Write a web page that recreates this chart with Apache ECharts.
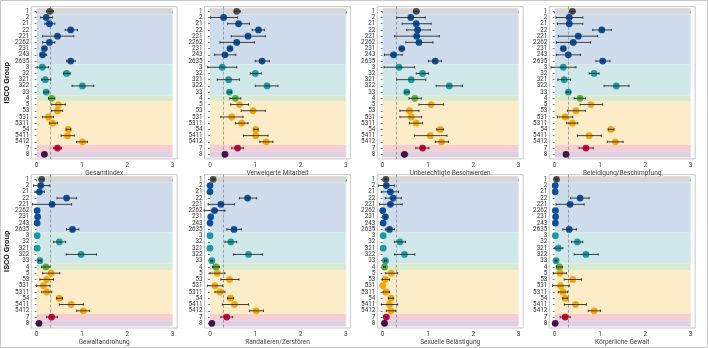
<!DOCTYPE html>
<html><head><meta charset="utf-8">
<script src="https://cdn.jsdelivr.net/npm/echarts@6/dist/echarts.min.js"></script>
<style>html,body{margin:0;padding:0;background:#fff}#c{width:708px;height:348px}</style>
</head><body><div id="c"></div>
<script>
const categories = ['1','2','21','22','221','2262','231','243','2635','3','32','321','322','33','4','5','53','531','5311','54','5411','5412','7','8'];
const panelNames = ['Gesamtindex','Verweigerte Mitarbeit','Unberechtigte Beschwerden','Beleidigung/Beschimpfung','Gewaltandrohung','Randalieren/Zerstören','Sexuelle Belästigung','Körperliche Gewalt'];
const xTicks = [0,1,2,3];
const refLine = 0.3;

const gesamtMean = [0.29,0.21,0.28,0.75,0.46,0.28,0.17,0.13,0.75,0.125,0.66,0.19,1.01,0.21,0.33,0.48,0.46,0.26,0.35,0.70,0.68,1.01,0.46,0.17];
const gesamtLow  = [0.22,0.09,0.18,0.63,0.13,0.13,0.13,0.09,0.66,0.01,0.59,0.11,0.78,0.16,0.26,0.33,0.33,0.125,0.28,0.65,0.54,0.88,0.37,0.14];
const gesamtHigh = [0.37,0.35,0.40,0.90,0.82,0.40,0.21,0.22,0.85,0.26,0.74,0.31,1.26,0.26,0.40,0.63,0.57,0.37,0.46,0.75,0.83,1.12,0.55,0.20];

const mitarbeitMean = [0.59,0.30,0.63,1.07,0.84,0.59,0.44,0.33,1.15,0.27,1.00,0.41,1.26,0.43,0.56,0.65,0.95,0.48,0.70,1.01,1.01,1.24,0.61,0.33];
const mitarbeitLow  = [0.54,0.01,0.39,0.93,0.47,0.22,0.40,0.10,1.00,-0.05,0.89,0.16,1.00,0.39,0.44,0.46,0.69,0.24,0.56,0.97,0.74,1.10,0.48,0.28];
const mitarbeitHigh = [0.67,0.61,0.87,1.20,1.22,0.98,0.49,0.57,1.31,0.59,1.13,0.65,1.50,0.47,0.68,0.85,1.22,0.73,0.84,1.06,1.28,1.39,0.74,0.38];

const beschwerdenMean = [0.74,0.62,0.74,0.77,0.75,0.80,0.42,0.24,1.16,0.36,0.88,0.63,1.47,0.53,0.71,1.07,0.59,0.63,0.74,1.27,1.05,1.30,0.88,0.48];
const beschwerdenLow  = [0.68,0.31,0.43,0.53,0.26,0.51,0.38,0.04,1.01,0.03,0.74,0.31,1.18,0.49,0.58,0.80,0.38,0.38,0.59,1.19,0.70,1.16,0.73,0.41];
const beschwerdenHigh = [0.80,0.94,1.07,1.05,1.25,1.11,0.47,0.43,1.30,0.70,1.01,0.95,1.76,0.58,0.85,1.34,0.80,0.86,0.88,1.34,1.42,1.45,1.02,0.55];

const beleidigungMean = [0.39,0.32,0.32,1.04,0.52,0.41,0.19,0.30,1.06,0.19,0.87,0.21,1.36,0.30,0.56,0.80,0.47,0.23,0.39,1.24,0.76,1.34,0.69,0.25];
const beleidigungLow  = [0.33,0.03,0.06,0.84,0.08,0.04,0.15,0.04,0.91,-0.08,0.76,0.07,1.09,0.26,0.43,0.56,0.28,0.06,0.26,1.18,0.50,1.16,0.54,0.22];
const beleidigungHigh = [0.45,0.62,0.62,1.25,0.95,0.79,0.24,0.57,1.22,0.47,0.98,0.35,1.64,0.35,0.68,1.06,0.68,0.40,0.51,1.31,1.03,1.51,0.85,0.28];

const drohungMean = [0.11,0.09,0.06,0.66,0.34,0.01,0.02,0.01,0.79,0.01,0.50,0.01,0.98,0.07,0.20,0.32,0.22,0.15,0.22,0.50,0.76,1.03,0.33,0.05];
const drohungLow  = [0.07,-0.07,-0.04,0.45,-0.09,0.01,0.02,0.01,0.66,0.01,0.37,0.01,0.65,0.04,0.11,0.13,0.07,0.00,0.11,0.44,0.50,0.88,0.22,0.02];
const drohungHigh = [0.15,0.28,0.17,0.88,0.77,0.01,0.02,0.01,0.93,0.01,0.64,0.01,1.32,0.10,0.29,0.51,0.37,0.29,0.33,0.57,1.03,1.17,0.46,0.08];

const randaleMean = [0.07,0.00,0.00,0.83,0.24,0.10,0.015,0.00,0.53,0.00,0.46,0.00,0.85,0.04,0.13,0.16,0.43,0.11,0.22,0.45,0.54,1.02,0.37,0.04];
const randaleLow  = [0.04,0,0,0.65,-0.04,-0.13,0.015,0,0.37,0,0.33,0,0.52,0.02,0.06,0.00,0.24,-0.06,0.11,0.39,0.27,0.87,0.24,0.02];
const randaleHigh = [0.10,0,0,1.03,0.54,0.33,0.015,0,0.69,0,0.59,0,1.16,0.06,0.21,0.33,0.64,0.28,0.33,0.52,0.85,1.18,0.50,0.06];

const sexuellMean = [0.07,0.08,0.17,0.23,0.17,0.00,0.06,0.01,0.15,0.01,0.38,0.01,0.48,0.06,0.04,0.19,0.06,0.00,0.07,0.18,0.15,0.18,0.08,0.04];
const sexuellLow  = [0.05,-0.09,-0.03,0.06,-0.07,0,0.04,0.01,0.06,0.01,0.26,0.01,0.26,0.04,0.02,0.06,-0.01,0,0.01,0.13,-0.03,0.08,0.06,0.02];
const sexuellHigh = [0.09,0.26,0.35,0.41,0.43,0,0.08,0.01,0.26,0.01,0.50,0.01,0.71,0.08,0.06,0.33,0.15,0,0.15,0.24,0.33,0.28,0.10,0.06];

const gewaltMean = [0.04,0.01,0.01,0.56,0.34,0.015,0.02,0.015,0.32,0.015,0.50,0.08,0.69,0.03,0.10,0.12,0.40,0.13,0.18,0.23,0.46,0.87,0.23,0.01];
const gewaltLow  = [0.02,0.01,0.01,0.35,0.03,0.015,0.02,0.015,0.18,0.015,0.37,-0.01,0.43,0.01,0.04,-0.03,0.21,-0.05,0.08,0.18,0.21,0.74,0.12,0.01];
const gewaltHigh = [0.06,0.01,0.01,0.76,0.65,0.015,0.02,0.015,0.48,0.015,0.62,0.18,0.96,0.05,0.17,0.26,0.59,0.32,0.28,0.29,0.70,1.01,0.34,0.01];

const panels = [
  [gesamtMean, gesamtLow, gesamtHigh],
  [mitarbeitMean, mitarbeitLow, mitarbeitHigh],
  [beschwerdenMean, beschwerdenLow, beschwerdenHigh],
  [beleidigungMean, beleidigungLow, beleidigungHigh],
  [drohungMean, drohungLow, drohungHigh],
  [randaleMean, randaleLow, randaleHigh],
  [sexuellMean, sexuellLow, sexuellHigh],
  [gewaltMean, gewaltLow, gewaltHigh]
];

const dotColors = {'1':'#4d4d4d','2':'#0b4f9c','3':'#1b9aa2','4':'#5aae37','5':'#f6a800','7':'#d2003c','8':'#4a0b4f'};
const bandColors = {'1':'#d6d6d6','2':'#cedcec','3':'#d0e8ea','4':'#d9eacf','5':'#fcecc8','7':'#f6cdd3','8':'#ddd0e1'};
const groups = categories.map(c => c[0]);

const FONT = 'Roboto';
const zeroX = [36.7, 210, 382.7, 554.7];
const unitPx = 45.3;
const xMin = -0.12, xMax = 3.1;
const yMin = -0.75, yMax = 23.75;
const rowTop = [6.64, 174.6];
const rowH = [152.3, 153.4];
const catIdx = categories.map((_, i) => i);

const grid = [], xAxis = [], yAxis = [], series = [];
panels.forEach((p, k) => {
  const r = Math.floor(k / 4), c = k % 4;
  grid.push({left: zeroX[c] + xMin * unitPx, width: (xMax - xMin) * unitPx, top: rowTop[r], height: rowH[r],
    show: true, borderColor: '#c8c8c8', borderWidth: 1, backgroundColor: '#fff'});
  xAxis.push({type: 'value', gridIndex: k, min: xMin, max: xMax,
    name: panelNames[k], nameLocation: 'middle', nameGap: 8.5,
    nameTextStyle: {fontFamily: FONT, fontSize: 6.5, color: '#444'},
    axisLine: {show: false}, splitLine: {show: false},
    axisTick: {show: true, customValues: xTicks, length: 2, lineStyle: {color: '#555', width: 0.8}},
    axisLabel: {customValues: xTicks, hideOverlap: false, fontFamily: FONT, fontSize: 6.5, color: '#444', margin: 3}});
  yAxis.push({type: 'value', gridIndex: k, inverse: true, min: yMin, max: yMax,
    name: c === 0 ? 'ISCO Group' : '', nameLocation: 'middle', nameGap: 20,
    nameTextStyle: {fontFamily: FONT, fontSize: 8, fontWeight: 'bold', color: '#222'},
    axisLine: {show: false}, splitLine: {show: false},
    axisTick: {show: true, customValues: catIdx, length: 2, lineStyle: {color: '#555', width: 0.8}},
    axisLabel: {customValues: catIdx, hideOverlap: false, showMinLabel: true, showMaxLabel: true,
      formatter: v => categories[Math.round(v)],
      fontFamily: FONT, fontSize: 6.3, color: '#333', margin: 2}});
  const [mean, low, high] = p;
  const bands = [];
  let start = 0;
  for (let i = 1; i <= categories.length; i++) {
    if (i === categories.length || groups[i] !== groups[start]) {
      bands.push([{xAxis: 0, yAxis: start - 0.5, itemStyle: {color: bandColors[groups[start]]}}, {xAxis: 3, yAxis: i - 0.5}]);
      start = i;
    }
  }
  series.push({type: 'scatter', xAxisIndex: k, yAxisIndex: k, z: 3, symbolSize: 6.8, silent: true,
    data: mean.map((v, i) => ({value: [v, i], itemStyle: {color: dotColors[groups[i]], opacity: 1}})),
    markArea: {silent: true, z: 1, data: bands},
    markLine: {silent: true, symbol: 'none', label: {show: false}, z: 2,
      lineStyle: {color: '#8a8a8a', type: [3, 2], width: 0.8}, data: [{xAxis: refLine}]}
  });
  series.push({type: 'custom', xAxisIndex: k, yAxisIndex: k, z: 4, silent: true,
    data: mean.map((v, i) => [low[i], high[i], i]),
    renderItem: (params, api) => {
      const lo = api.value(0), hi = api.value(1), y = api.value(2);
      if (hi - lo < 0.005) return null;
      const a = api.coord([lo, y]), b = api.coord([hi, y]);
      const st = {stroke: '#2a2a2a', lineWidth: 0.9};
      return {type: 'group', children: [
        {type: 'line', shape: {x1: a[0], y1: a[1], x2: b[0], y2: b[1]}, style: st},
        {type: 'line', shape: {x1: a[0], y1: a[1] - 1.2, x2: a[0], y2: a[1] + 1.2}, style: st},
        {type: 'line', shape: {x1: b[0], y1: b[1] - 1.2, x2: b[0], y2: b[1] + 1.2}, style: st}
      ]};
    }
  });
});

const chart = echarts.init(document.getElementById('c'), null, {renderer: 'canvas'});
chart.setOption({
  animation: false,
  backgroundColor: '#fff',
  grid, xAxis, yAxis, series,
  graphic: [{type: 'rect', shape: {x: 0.5, y: 0.5, width: 707, height: 347}, style: {fill: 'none', stroke: '#c8c8c8', lineWidth: 1}, silent: true}]
});
</script></body></html>
